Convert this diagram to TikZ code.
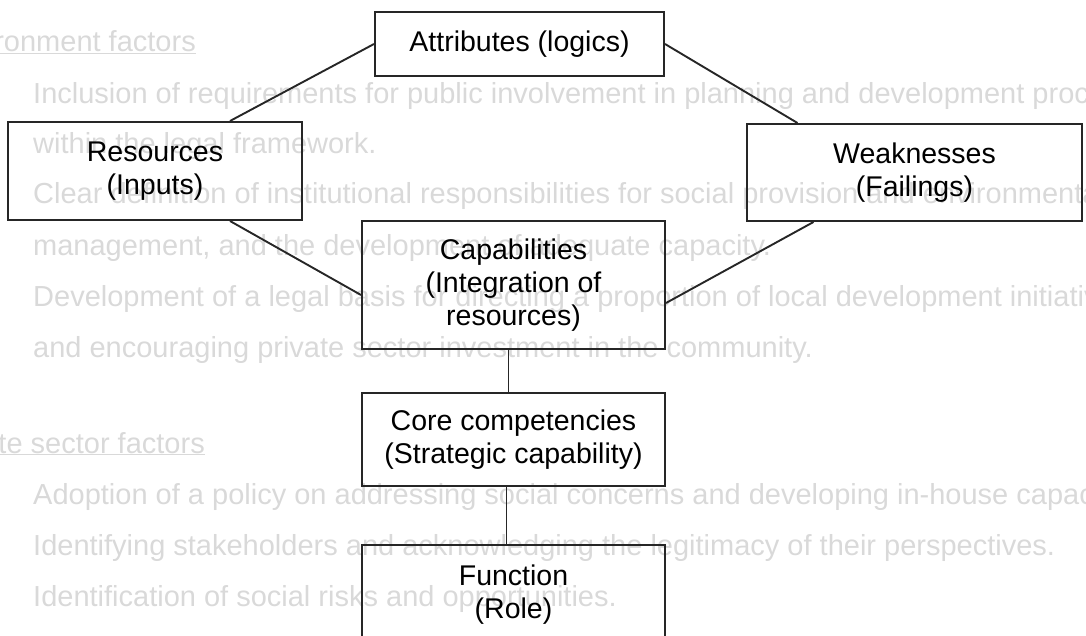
\documentclass[tikz,border=0pt]{standalone}
\usepackage{fontspec}
\setmainfont{Liberation Sans}
\usetikzlibrary{calc}
\begin{document}
\begin{tikzpicture}[x=1pt,y=-1pt,
  box/.style={draw=black!85, line width=2pt, align=center, inner sep=0pt,
              font=\fontsize{28.5}{33}\selectfont},
  link/.style={draw=black!85, line width=1.9pt},
  ghost/.style={text=black!15, inner sep=0pt, font=\fontsize{29}{33}\selectfont}]
\useasboundingbox (0,0) rectangle (1086,636);
\begin{scope}
\clip (0,0) rectangle (1086,636);

% faint text of the page behind
\node[ghost, anchor=base east] (g0) at (196,52) {\underline{Environment factors}};
\node[ghost, anchor=base west] (g1) at (33,104) {Inclusion of requirements for public involvement in planning and development processes};
\node[ghost, anchor=base west] (g2) at (33,154) {within the legal framework.};
\node[ghost, anchor=base west] (g3) at (33,204) {Clear definition of institutional responsibilities for social provision and environmental};
\node[ghost, anchor=base west] (g4) at (33,255) {management, and the development of adequate capacity.};
\node[ghost, anchor=base west] (g5) at (33,306) {Development of a legal basis for directing a proportion of local development initiatives};
\node[ghost, anchor=base west] (g6) at (33,357) {and encouraging private sector investment in the community.};
\node[ghost, anchor=base east] (g7) at (205,453) {\underline{Private sector factors}};
\node[ghost, anchor=base west] (g8) at (33,504) {Adoption of a policy on addressing social concerns and developing in-house capacity};
\node[ghost, anchor=base west] (g9) at (33,555) {Identifying stakeholders and acknowledging the legitimacy of their perspectives.};
\node[ghost, anchor=base west] (g10) at (33,606) {Identification of social risks and opportunities.};

% boxes
\node[box, minimum width=289pt, minimum height=64pt]  (attr) at (519.5,44)  {Attributes (logics)};
\node[box, minimum width=294pt, minimum height=98pt]  (res)  at (155,171)   {Resources\\(Inputs)};
\node[box, minimum width=335pt, minimum height=97pt]  (weak) at (914.5,172.5) {Weaknesses\\(Failings)};
\node[box, minimum width=303pt, minimum height=128pt] (cap)  at (513.5,285) {Capabilities\\(Integration of\\resources)};
\node[box, minimum width=303pt, minimum height=93pt]  (core) at (513.5,439.5) {Core competencies\\(Strategic capability)};
\node[box, minimum width=303pt, minimum height=100pt] (func) at (513.5,595) {Function\\(Role)};

% connectors
\draw[link] (attr.west) -- ($(res.north)+(75,0)$);
\draw[link] (attr.east) -- ($(weak.north)+(-117,0)$);
\draw[link] ($(res.south)+(75,0)$) -- ($(cap.west)+(0,10)$);
\draw[link] ($(weak.south)+(-101,0)$) -- ($(cap.east)+(0,18)$);
\draw[link] ($(cap.south)+(-5,0)$) -- ($(core.north)+(-5,0)$);
\draw[link] ($(core.south)+(-7,0)$) -- ($(func.north)+(-7,0)$);
\end{scope}
\end{tikzpicture}
\end{document}
